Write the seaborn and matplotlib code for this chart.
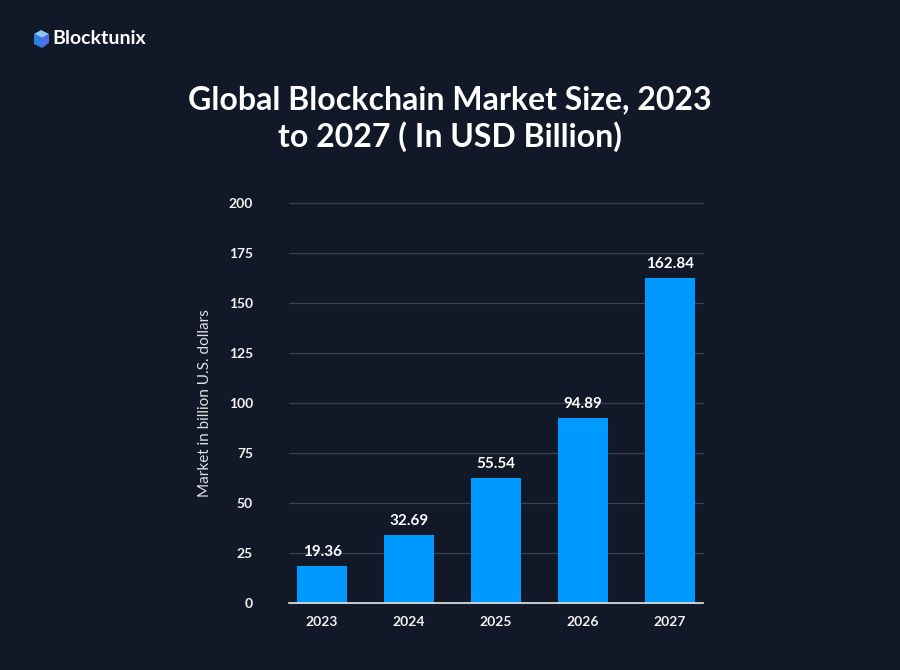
import matplotlib
matplotlib.use("Agg")
import matplotlib.pyplot as plt
import seaborn as sns
import pandas as pd
from matplotlib.patches import Polygon

years = ["2023", "2024", "2025", "2026", "2027"]
bar_heights = [18.6, 34.0, 62.7, 92.7, 162.7]
value_labels = ["19.36", "32.69", "55.54", "94.89", "162.84"]
y_ticks = [0, 25, 50, 75, 100, 125, 150, 175, 200]

BG = "#111827"
BAR = "#0099FF"
FONT = ["Lato", "DejaVu Sans"]

sns.set_theme(style="dark")
plt.rcParams["font.family"] = FONT

df = pd.DataFrame({"year": years, "value": bar_heights})

fig = plt.figure(figsize=(9, 6.7), dpi=100, facecolor=BG)
ax = fig.add_axes([289 / 900, 67 / 670, 414 / 900, 400 / 670])
ax.set_facecolor(BG)

sns.barplot(data=df, x="year", y="value", color=BAR, width=0.575,
            saturation=1, ax=ax, zorder=3, edgecolor="none", linewidth=0)

ax.set_xlim(-0.38, 4.38)
ax.set_ylim(0, 200)
ax.set_yticks(y_ticks)
ax.set_yticklabels([str(t) for t in y_ticks])
ax.grid(axis="y", color="#3b404d", linewidth=0.9, zorder=0)
ax.grid(axis="x", visible=False)
for g in ax.get_ygridlines():
    g.set_clip_on(False)
for s in ["top", "right", "left"]:
    ax.spines[s].set_visible(False)
ax.spines["bottom"].set_color("#e6e6e6")
ax.spines["bottom"].set_linewidth(1.2)
ax.spines["bottom"].set_zorder(4)

ax.tick_params(axis="both", length=0, colors="white", labelsize=10)
ax.tick_params(axis="y", pad=26)
ax.tick_params(axis="x", pad=9)
for lab in ax.get_xticklabels() + ax.get_yticklabels():
    lab.set_fontweight("bold")
    lab.set_color("#f2f2f2")

ax.set_xlabel("")
ax.set_ylabel("Market in billion U.S. dollars", color="#e0e0e0", fontsize=11,
              labelpad=12)

for i, (h, lab) in enumerate(zip(bar_heights, value_labels)):
    ax.annotate(lab, xy=(i, h), xytext=(0, 5), textcoords="offset points",
                ha="center", va="bottom", color="white", fontsize=11,
                fontweight="bold")

fig.text(0.5, 1 - 100 / 670, "Global Blockchain Market Size, 2023",
         ha="center", va="center", color="white", fontsize=23,
         fontweight="bold")
fig.text(0.5, 1 - 137 / 670, "to 2027 ( In USD Billion)",
         ha="center", va="center", color="white", fontsize=23,
         fontweight="bold")

# logo: small cube icon + brand name
def fx(x):
    return x / 900
def fy(y):
    return 1 - y / 670
top = [(34, 34), (41, 30), (49, 34), (42, 38)]
left = [(34, 34), (42, 38), (42, 48), (34, 44)]
right = [(42, 38), (49, 34), (49, 43), (42, 48)]
for pts, c in [(top, "#8fc2ff"), (left, "#2f7de0"), (right, "#4d6fe8")]:
    fig.patches.append(Polygon([(fx(x), fy(y)) for x, y in pts], closed=True,
                               transform=fig.transFigure, facecolor=c,
                               edgecolor="none"))
fig.text(fx(52), fy(39), "Blocktunix", ha="left", va="center", color="white",
         fontsize=14, fontweight="bold")

fig.savefig("out.png", dpi=100, facecolor=BG)
